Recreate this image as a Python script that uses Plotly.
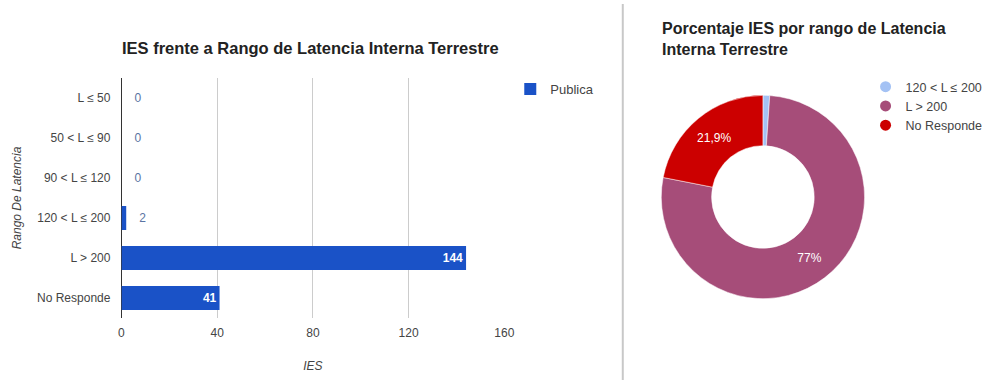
import plotly.graph_objects as go

# Data
categorias = ["L ≤ 50", "50 < L ≤ 90", "90 < L ≤ 120", "120 < L ≤ 200", "L > 200", "No Responde"]
ies_publica = [0, 0, 0, 2, 144, 41]

dona_labels = ["120 < L ≤ 200", "L > 200", "No Responde"]
dona_values = [2, 144, 41]
dona_colors = ["#a4c2f4", "#a64d79", "#cc0000"]
x_ticks = [0, 40, 80, 120, 160]

W, H = 993, 386
FONT = "Liberation Sans, Arial, sans-serif"
BLUE = "#1a52c7"


def px_x(p):
    return p / W


def px_y(p):
    return 1 - p / H


def pct_text(v, total):
    p = 100 * v / total
    s = f"{p:.3g}"
    if "." in s:
        s = s.rstrip("0").rstrip(".")
    return s.replace(".", ",") + "%"


total = sum(dona_values)
dona_text = [pct_text(v, total) if v / total > 0.05 else "" for v in dona_values]

bar_pos = ["inside" if v > 20 else "outside" for v in ies_publica]
bar_text = [str(v) if p == "inside" else "\u00a0\u00a0\u00a0" + str(v)
            for v, p in zip(ies_publica, bar_pos)]

fig = go.Figure()

fig.add_trace(go.Bar(
    y=categorias,
    x=ies_publica,
    orientation="h",
    name="Publica",
    marker=dict(color=BLUE, line=dict(width=0)),
    width=0.6,
    text=bar_text,
    textposition=bar_pos,
    insidetextanchor="end",
    insidetextfont=dict(color="white", size=12, family=FONT, weight="bold"),
    outsidetextfont=dict(color="#5a74a3", size=12, family=FONT),
    cliponaxis=False,
    legend="legend",
    hoverinfo="x+y",
))

fig.add_trace(go.Pie(
    labels=dona_labels,
    values=dona_values,
    hole=0.505,
    sort=False,
    direction="clockwise",
    rotation=0,
    marker=dict(colors=dona_colors, line=dict(color="white", width=0.5)),
    text=dona_text,
    textinfo="text",
    textposition="inside",
    insidetextorientation="horizontal",
    textfont=dict(color="white", size=12, family=FONT),
    domain=dict(x=[px_x(667), px_x(873)], y=[px_y(300), px_y(94)]),
    showlegend=False,
))

# round legend keys for the donut slices
for lab, col in zip(dona_labels, dona_colors):
    fig.add_trace(go.Scatter(
        x=[None], y=[None], mode="markers", name=lab,
        marker=dict(symbol="circle", size=11, color=col),
        legend="legend2", hoverinfo="skip",
    ))

fig.update_layout(
    width=W, height=H,
    autosize=False,
    margin=dict(l=0, r=0, t=0, b=0),
    paper_bgcolor="white",
    plot_bgcolor="white",
    font=dict(family=FONT, size=12, color="#444"),
    xaxis=dict(
        domain=[px_x(120), px_x(508)],
        range=[0, 160],
        tickvals=x_ticks,
        showgrid=True, gridcolor="#cccccc", gridwidth=1,
        zeroline=True, zerolinecolor="#333333", zerolinewidth=1,
        showline=False,
        tickfont=dict(size=12, color="#444"),
        ticks="", ticklabelstandoff=6,
        title=dict(text="IES", font=dict(size=12, color="#444", style="italic"), standoff=22),
        fixedrange=True,
    ),
    yaxis=dict(
        domain=[px_y(318), px_y(78)],
        categoryorder="array", categoryarray=categorias,
        autorange="reversed",
        showgrid=False, zeroline=False, showline=False,
        ticks="", ticklabelstandoff=10,
        tickfont=dict(size=12, color="#444"),
        title=dict(text="Rango De Latencia", font=dict(size=12, color="#444", style="italic"), standoff=12),
        fixedrange=True,
    ),
    legend=dict(
        x=px_x(514), y=px_y(74), xanchor="left", yanchor="top",
        font=dict(size=13, color="#444"),
        bgcolor="rgba(0,0,0,0)", itemwidth=30,
    ),
    legend2=dict(
        x=px_x(874), y=px_y(72), xanchor="left", yanchor="top",
        font=dict(size=12.5, color="#444"),
        bgcolor="rgba(0,0,0,0)", tracegroupgap=0, itemwidth=30,
    ),
    showlegend=True,
    annotations=[
        dict(text="<b>IES frente a Rango de Latencia Interna Terrestre</b>",
             x=px_x(312), y=px_y(48), xref="paper", yref="paper",
             xanchor="center", yanchor="middle", showarrow=False,
             font=dict(size=16.5, color="#222", family=FONT)),
        dict(text="<b>Porcentaje IES por rango de Latencia<br>Interna Terrestre</b>",
             x=px_x(666), y=px_y(18), xref="paper", yref="paper",
             xanchor="left", yanchor="top", align="left", showarrow=False,
             font=dict(size=16, color="#222", family=FONT)),
    ],
    shapes=[
        dict(type="line", xref="paper", yref="paper",
             x0=px_x(628), x1=px_x(628), y0=px_y(4), y1=px_y(380),
             line=dict(color="#c8c8c8", width=2)),
    ],
)

fig.write_html("out.html")
